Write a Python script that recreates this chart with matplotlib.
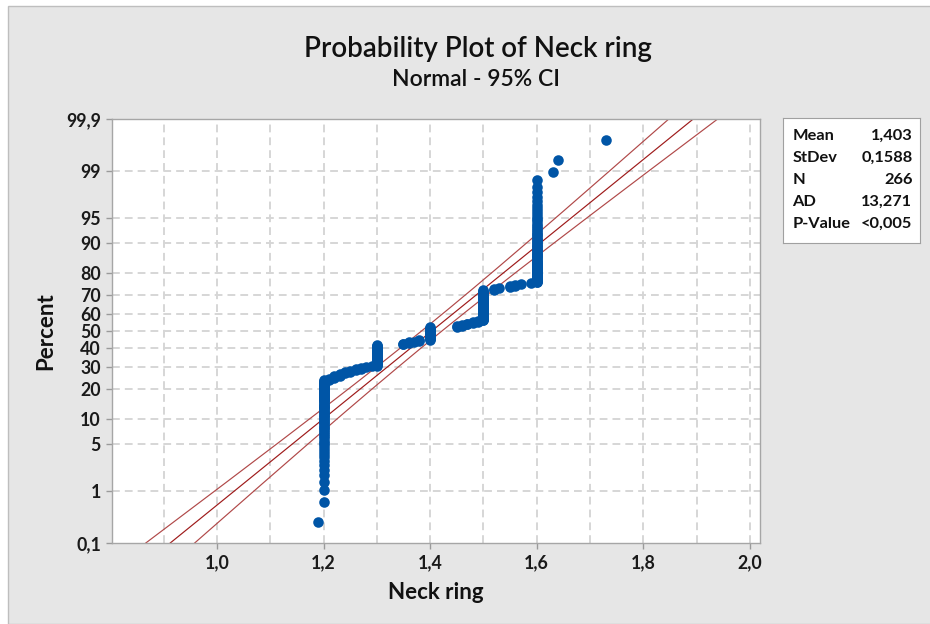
import numpy as np
import matplotlib.pyplot as plt
from matplotlib.patches import Rectangle
from statistics import NormalDist

plt.rcParams['font.family'] = ['Lato', 'DejaVu Sans']

# Neck ring measurements (value, how many times it occurs)
neck_values = [1.19, 1.20, 1.21, 1.22, 1.23, 1.24, 1.25, 1.26, 1.27, 1.28, 1.29,
               1.30, 1.35, 1.36, 1.37, 1.38, 1.40, 1.45, 1.46, 1.47, 1.48, 1.49,
               1.50, 1.52, 1.53, 1.55, 1.56, 1.57, 1.59, 1.60, 1.63, 1.64, 1.73]
neck_counts = [1, 62, 2, 3, 3, 2, 2, 2, 2, 1, 1,
               31, 2, 2, 1, 2, 20, 2, 2, 2, 2, 2,
               44, 2, 1, 2, 2, 1, 1, 61, 1, 1, 1]

# summary statistics shown in the legend box
mean = 1.403
stdev = 0.1588
n_obs = 266
ad_stat = 13.271
stat_names = ['Mean', 'StDev', 'N', 'AD', 'P-Value']
stat_texts = ['1,403', '0,1588', '266', '13,271', '<0,005']

pct_ticks = [0.1, 1, 5, 10, 20, 30, 40, 50, 60, 70, 80, 90, 95, 99, 99.9]
x_major = [1.0, 1.2, 1.4, 1.6, 1.8, 2.0]
x_minor = [0.9, 1.1, 1.3, 1.5, 1.7, 1.9]

nd = NormalDist()
data = np.sort(np.repeat(neck_values, neck_counts))
ranks = np.arange(1, len(data) + 1)
pct = (ranks - 0.3) / (len(data) + 0.4)   # median ranks
z = np.array([nd.inv_cdf(p) for p in pct])

zlim = nd.inv_cdf(0.999)
zz = np.linspace(-zlim, zlim, 300)
fit = mean + stdev * zz
half = 1.96 * stdev * np.sqrt(1.0 / n_obs + zz ** 2 / (2.0 * n_obs))

fig = plt.figure(figsize=(9.3, 6.24), dpi=100, facecolor='white')
fig.patches.append(Rectangle((8 / 930, 0), 1, 1 - 6 / 624, transform=fig.transFigure,
                             facecolor='#E6E6E6', edgecolor='#BEBEBE', lw=1, zorder=-10))

ax = fig.add_axes([112 / 930, 81 / 624, 648 / 930, 424 / 624])
ax.set_facecolor('white')

grid_kw = dict(color='#D6D6D6', lw=1.4, ls=(0, (4, 2.6)), zorder=0)
for xv in x_major + x_minor:
    ax.axvline(xv, **grid_kw)
for p in pct_ticks[1:-1]:
    ax.axhline(nd.inv_cdf(p / 100), **grid_kw)

ax.plot(fit, zz, color='#9E1A1A', lw=0.85, zorder=2)
ax.plot(fit - half, zz, color='#B04848', lw=0.85, zorder=2)
ax.plot(fit + half, zz, color='#B04848', lw=0.85, zorder=2)
ax.plot(data, z, 'o', ms=7.6, color='#0055A6', mew=0, zorder=3)

ax.set_xlim(0.803, 2.019)
ax.set_ylim(-zlim, zlim)
ax.set_xticks(x_major)
ax.set_xticklabels([f'{v:.1f}'.replace('.', ',') for v in x_major])
ax.set_yticks([nd.inv_cdf(p / 100) for p in pct_ticks])
ax.set_yticklabels([f'{p:g}'.replace('.', ',') for p in pct_ticks])
ax.tick_params(labelsize=12.8, length=4, width=1, color='#9A9A9A', labelcolor='#1A1A1A',
               pad=4)
for lab in ax.get_xticklabels() + ax.get_yticklabels():
    lab.set_fontweight('bold')
for sp in ax.spines.values():
    sp.set_color('#A6A6A6')
    sp.set_linewidth(1)

ax.set_xlabel('Neck ring', fontsize=16, fontweight='bold', labelpad=8, color='#111111')
ax.set_ylabel('Percent', fontsize=16, fontweight='bold', labelpad=7, color='#111111')

fig.text(0.514, 0.921, 'Probability Plot of Neck ring', ha='center', va='center',
         fontsize=20, fontweight='semibold', color='#111111')
fig.text(0.512, 0.872, 'Normal - 95% CI', ha='center', va='center',
         fontsize=16.5, fontweight='semibold', color='#111111')

# statistics box
box = fig.add_axes([783 / 930, 381 / 624, 137 / 930, 125 / 624])
box.set_facecolor('white')
box.set_xticks([])
box.set_yticks([])
for sp in box.spines.values():
    sp.set_color('#A0A0A0')
rows_y = [0.856, 0.68, 0.504, 0.328, 0.152]
for name, val, yy in zip(stat_names, stat_texts, rows_y):
    box.text(0.07, yy, name, ha='left', va='center', fontsize=11.8,
             fontweight='bold', color='#111111', transform=box.transAxes)
    box.text(0.945, yy, val, ha='right', va='center', fontsize=11.8,
             fontweight='bold', color='#111111', transform=box.transAxes)

fig.savefig('out.png', dpi=100, facecolor=fig.get_facecolor())
